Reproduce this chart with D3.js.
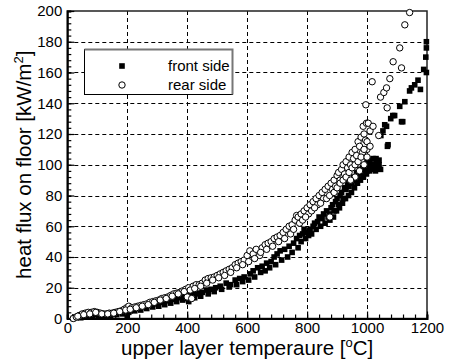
<!DOCTYPE html>
<html>
<head>
<meta charset="utf-8">
<script src="https://cdn.jsdelivr.net/npm/d3@7"></script>
<style>
  body { margin: 0; background: #fff; }
  svg { display: block; }
</style>
</head>
<body>
<figure id="chart" style="margin:0"></figure>
<script>
// values: [temperature °C, heat flux kW/m2]
const frontSide = [
  [20,0],[30,0.5],[40,1],[50,1.5],[60,2],[70,2.5],[80,3],[90,3],[100,2.5],[110,2],[120,2],[130,2.5],
  [140,3],[150,3],[160,3.5],[170,4],[180,4],[190,5],[200,6],[200,1],[210,5],[220,6],[230,6.5],[240,7],
  [250,7.5],[260,8],[270,8.5],[280,9],[290,9.5],[300,10],[310,10.5],[320,11],[330,11.5],[340,12],
  [350,12.5],[360,13],[370,13.5],[380,14],[390,14],[400,13],[405,11],[410,15],[420,15.5],[430,16],
  [440,16.5],[450,17],[465,18.5],[480,19],[495,20],[510,21],[530,23],[545,22],[560,25],[575,26],
  [590,27],[610,29],[620,31],[635,33],[650,34],[665,36],[680,37],[690,40],[700,42],[710,44],[725,45],
  [740,47],[755,49],[765,52],[775,54],[785,55],[790,58],[800,56],[810,58],[820,60],[825,62],[835,63],
  [840,66],[850,65],[855,68],[865,70],[870,66],[876,64],[880,72],[885,74],[890,70],[895,76],[900,78],
  [905,74],[910,80],[915,82],[920,78],[925,85],[930,84],[935,88],[940,86],[945,90],[950,88],[955,92],
  [960,90],[965,95],[970,93],[975,97],[980,95],[985,98],[987,92],[990,100],[995,96],[1000,102],
  [1005,99],[1010,103],[1015,100],[1020,104],[1025,98],[1030,102],[1035,101],[1040,100],[1046,119],
  [1053,122],[1059,126],[1065,125],[1068,112],[1070,113],[1079,130],[1086,132],[1092,132],[1109,138],
  [1115,128],[1119,128],[1126,141],[1142,148],[1148,150],[1159,152],[1170,155],[1178,149],[1189,162],
  [1196,170],[1198,160],[1198,176],[1198,180],
  [25,1],[45,0.5],[65,1.5],[85,2],[105,1.5],[125,1],[145,2],[165,2.5],[185,3],[205,4],[225,5],
  [245,5.5],[265,6.5],[285,7.5],[305,8],[325,9],[345,10],[365,11],[385,12],[425,13.5],[445,14.5],
  [470,16],[490,17.5],[515,19],[540,20.5],[565,22],[585,24],[605,25],[625,27],[645,30],[660,31],
  [675,33],[695,35],[715,38],[735,40],[750,43],[770,46],[780,50],[795,52],[805,54],[815,55],[830,58],
  [845,60],[860,62],[875,68],[888,66],[898,70],[908,72],[918,75],[928,78],[938,80],[948,82],[958,85],
  [968,88],[978,90],[988,92],[998,94],[1008,96],[1018,97],[1028,96],[1038,98],[1045,97],[1000,96],
  [1010,99],[1020,100],[1030,104],[1040,103]
];

const rearSide = [
  [20,0],[30,1],[40,2],[50,3],[60,3.5],[70,4],[80,4],[90,4.5],[100,4],[110,3.5],[120,3],[130,3],
  [140,3.5],[150,3.5],[160,4],[170,4.5],[180,5],[190,6],[198,7],[205,8],[215,7],[225,7.5],[235,8],
  [245,8.5],[255,9],[265,9.5],[275,10.5],[285,11],[295,11.5],[305,12],[315,13],[325,13.5],[335,14],
  [345,15],[355,16],[365,16.5],[375,17],[385,18],[395,19],[400,14],[405,20],[415,13],[420,21],
  [430,22],[440,22],[450,23],[460,25],[470,26],[480,26.5],[490,27],[500,28],[510,29],[520,30],
  [530,31],[540,32],[550,33],[560,35],[570,36],[580,37],[590,38],[600,41],[609,44],[620,42],[630,45],
  [642,41],[650,46],[660,48],[670,49],[680,50],[690,52],[700,53],[710,54],[720,56],[730,58],[740,60],
  [750,61],[760,64],[765,67],[770,66],[780,68],[790,70],[800,72],[805,68],[810,74],[820,76],[830,78],
  [835,74],[840,80],[850,82],[855,78],[860,84],[870,86],[876,66],[880,88],[885,84],[890,90],[895,86],
  [900,93],[905,95],[910,90],[915,97],[920,100],[925,94],[930,102],[935,98],[940,105],[945,100],
  [950,108],[955,104],[960,110],[965,106],[970,115],[975,112],[980,118],[985,108],[987,125],[990,120],
  [995,116],[996,139],[998,127],[1000,110],[1004,127],[1010,122],[1017,154],[1020,125],[1039,119],
  [1045,144],[1056,147],[1065,150],[1067,137],[1076,156],[1087,167],[1109,176],[1115,163],[1126,191],
  [1142,199],
  [35,1.5],[55,2.5],[75,3],[95,4],[115,3],[135,3],[155,3.5],[175,4.5],[195,5.5],[210,6],[230,7],
  [250,8],[270,9],[290,10.5],[310,12],[330,13],[350,14.5],[370,16],[390,17.5],[410,18.5],[425,19.5],
  [445,21],[465,23],[485,25],[505,26.5],[525,28],[545,30],[565,33],[585,35],[605,37],[625,39],
  [645,43],[665,45],[685,47],[705,50],[725,52],[745,55],[755,58],[775,62],[785,64],[795,66],[815,70],
  [825,72],[845,75],[865,78],[875,80],[890,82],[900,85],[910,88],[920,90],[930,92],[940,95],[950,98],
  [960,100],[970,102],[980,105],[990,110],[1000,115],[1000,105],[990,100],[975,96],[960,92],[945,90],
  [1010,112]
];

const xTicks = [0, 200, 400, 600, 800, 1000, 1200];
const yTicks = [0, 20, 40, 60, 80, 100, 120, 140, 160, 180, 200];
const legendLabels = ['front side', 'rear side'];

const width = 450;
const height = 362;
const margin = {top: 11, right: 23, bottom: 43.5, left: 67.3};
const font = 'Liberation Sans, Arial, sans-serif';

const svg = d3.select('figure#chart')
  .append('svg')
  .attr('width', width)
  .attr('height', height)
  .attr('font-family', font);

const x = d3.scaleLinear()
  .domain([0, 1200])
  .range([margin.left, width - margin.right]);

const y = d3.scaleLinear()
  .domain([0, 200])
  .range([height - margin.bottom, margin.top]);

// dashed grid at the major ticks
const grid = svg.append('g')
  .attr('stroke', '#000')
  .attr('stroke-width', 1)
  .attr('stroke-dasharray', '4,3');

grid.selectAll('line.vx')
  .data(xTicks.slice(1, -1))
  .join('line')
  .attr('x1', d => Math.round(x(d)) + 0.5)
  .attr('x2', d => Math.round(x(d)) + 0.5)
  .attr('y1', y(200))
  .attr('y2', y(0));

grid.selectAll('line.hy')
  .data(yTicks.slice(1, -1))
  .join('line')
  .attr('x1', x(0))
  .attr('x2', x(1200))
  .attr('y1', d => Math.round(y(d)) + 0.5)
  .attr('y2', d => Math.round(y(d)) + 0.5);

// frame
svg.append('rect')
  .attr('x', x(0))
  .attr('y', y(200))
  .attr('width', x(1200) - x(0))
  .attr('height', y(0) - y(200))
  .attr('fill', 'none')
  .attr('stroke', '#222')
  .attr('stroke-width', 1.5);

// axes, ticks pointing into the plot
const xAxis = g => g
  .attr('transform', `translate(0,${y(0)})`)
  .call(d3.axisBottom(x).tickValues(d3.range(0, 1201, 40)).tickSize(-4).tickFormat(''))
  .call(g => g.select('.domain').attr('stroke-width', 2))
  .call(g => g.selectAll('.tick line').attr('stroke-width', 1.2));

const xMajor = g => g
  .attr('transform', `translate(0,${y(0)})`)
  .call(d3.axisBottom(x).tickValues(xTicks).tickSize(-7).tickPadding(4).tickFormat(d => d))
  .call(g => g.select('.domain').remove())
  .call(g => g.selectAll('.tick line').attr('stroke-width', 1.2))
  .call(g => g.selectAll('.tick text').attr('font-size', 15).attr('font-family', font).attr('fill', '#000'));

const yAxis = g => g
  .attr('transform', `translate(${x(0)},0)`)
  .call(d3.axisLeft(y).tickValues(d3.range(0, 201, 4)).tickSize(-4).tickFormat(''))
  .call(g => g.select('.domain').attr('stroke-width', 2))
  .call(g => g.selectAll('.tick line').attr('stroke-width', 1.2));

const yMajor = g => g
  .attr('transform', `translate(${x(0)},0)`)
  .call(d3.axisLeft(y).tickValues(yTicks).tickSize(-7).tickPadding(5).tickFormat(d => d))
  .call(g => g.select('.domain').remove())
  .call(g => g.selectAll('.tick line').attr('stroke-width', 1.2))
  .call(g => g.selectAll('.tick text').attr('font-size', 15).attr('font-family', font).attr('fill', '#000'));

svg.append('g').call(xAxis);
svg.append('g').call(xMajor);
svg.append('g').call(yAxis);
svg.append('g').call(yMajor);

// points
svg.append('g')
  .selectAll('rect')
  .data(frontSide)
  .join('rect')
  .attr('x', d => x(d[0]) - 2.8)
  .attr('y', d => y(d[1]) - 2.8)
  .attr('width', 5.6)
  .attr('height', 5.6)
  .attr('fill', '#000');

svg.append('g')
  .selectAll('circle')
  .data(rearSide)
  .join('circle')
  .attr('cx', d => x(d[0]))
  .attr('cy', d => y(d[1]))
  .attr('r', 3.2)
  .attr('fill', '#fff')
  .attr('stroke', '#000')
  .attr('stroke-width', 1);

// legend
const legend = svg.append('g');
legend.append('rect')
  .attr('x', 84.5)
  .attr('y', 49.5)
  .attr('width', 148)
  .attr('height', 45)
  .attr('fill', '#fff')
  .attr('stroke', '#000')
  .attr('stroke-width', 1);
legend.append('path')
  .attr('d', 'M84.5,49.5H232.5V94.5')
  .attr('fill', 'none')
  .attr('stroke', '#777')
  .attr('stroke-width', 2);
legend.append('rect')
  .attr('x', 119.2)
  .attr('y', 63.2)
  .attr('width', 5.6)
  .attr('height', 5.6)
  .attr('fill', '#000');
legend.append('circle')
  .attr('cx', 122)
  .attr('cy', 85)
  .attr('r', 3.2)
  .attr('fill', '#fff')
  .attr('stroke', '#000');
legend.selectAll('text')
  .data(legendLabels)
  .join('text')
  .attr('x', 168)
  .attr('y', (d, i) => 71 + i * 19)
  .attr('font-size', 15)
  .text(d => d);

// axis titles
const xTitle = svg.append('text')
  .attr('x', (x(0) + x(1200)) / 2)
  .attr('y', 355)
  .attr('text-anchor', 'middle')
  .attr('font-size', 20.5);
xTitle.append('tspan').text('upper layer temperaure [');
xTitle.append('tspan').attr('dy', -8).attr('font-size', 13).text('o');
xTitle.append('tspan').attr('dy', 8).text('C]');

const yTitle = svg.append('text')
  .attr('transform', `translate(31,${(y(0) + y(200)) / 2}) rotate(-90)`)
  .attr('text-anchor', 'middle')
  .attr('font-size', 20.5);
yTitle.append('tspan').text('heat flux on floor [kW/m');
yTitle.append('tspan').attr('dy', -8).attr('font-size', 13).text('2');
yTitle.append('tspan').attr('dy', 8).text(']');
</script>
</body>
</html>
